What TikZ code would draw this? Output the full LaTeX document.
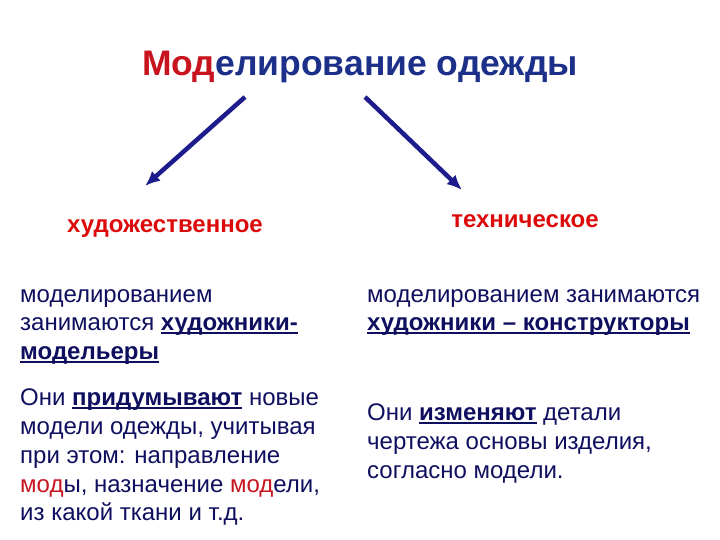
\documentclass[tikz,border=0pt]{standalone}
\usepackage{fontspec}
\setmainfont{Liberation Sans}
\usetikzlibrary{shapes,arrows,arrows.meta}
\definecolor{navy}{RGB}{28,48,138}
\definecolor{ink}{RGB}{15,15,95}
\definecolor{headred}{RGB}{220,10,10}
\definecolor{modred}{RGB}{200,20,30}
\definecolor{arrowblue}{RGB}{28,28,140}
\tikzset{
	title/.style = {font=\fontsize{35.5}{40}\selectfont\bfseries, text=navy, inner sep=0},
	head/.style  = {font=\fontsize{24}{28}\selectfont\bfseries, text=headred, inner sep=0},
	body/.style  = {font=\fontsize{24}{28.75}\selectfont, text=ink, align=left,
		anchor=north west, inner sep=0},
	input/.style  = {coordinate}, % start of arrow
	output/.style = {coordinate}  % end of arrow
}
\newcommand{\modred}[1]{\textcolor{modred}{#1}}
\newcommand{\ubold}[1]{\setbox0\hbox{\textbf{#1}}\rlap{\rule[-3pt]{\wd0}{1.7pt}}\box0\relax}

\begin{document}
\begin{tikzpicture}[x=1pt, y=-1pt, >={Latex[length=15pt,width=13pt]}]
	\useasboundingbox (0,0) rectangle (720,540);
	\draw
	node at (360,67) [title] (t) {\modred{Мод}елирование одежды}
	node at (245,97) [input] (a1) {}
	node at (145,186) [output] (b1) {}
	node at (365,97) [input] (a2) {}
	node at (462,190) [output] (b2) {}
	node at (165,229) [head] (h1) {художественное}
	node at (525,221) [head] (h2) {техническое}
	node at (20,289) [body] (l1) {моделированием\\ занимаются \ubold{художники-}\\ \ubold{модельеры}}
	node at (367,289) [body] (r1) {моделированием занимаются\\ \ubold{художники -- конструкторы}}
	node at (20,389) [body] (l2) {Они \ubold{придумывают} новые\\ модели одежды, учитывая\\ при этом: направление\\ \modred{мод}ы, назначение \modred{мод}ели,\\ из какой ткани и т.д.}
	node at (367,404) [body] (r2) {Они \ubold{изменяют} детали\\ чертежа основы изделия,\\ согласно модели.}
	;
	\draw[->, line width=4.5pt, arrowblue](a1)--(b1);
	\draw[->, line width=4.5pt, arrowblue](a2)--(b2);
\end{tikzpicture}
\end{document}
